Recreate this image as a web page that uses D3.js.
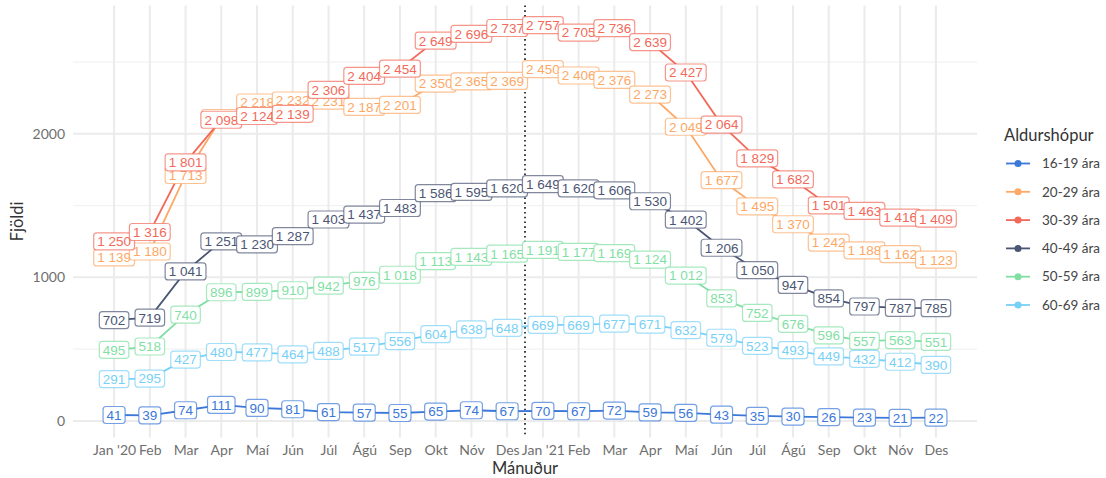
<!DOCTYPE html>
<html>
<head>
<meta charset="utf-8">
<script src="https://cdn.jsdelivr.net/npm/d3@7"></script>
<style>
  body { margin: 0; background: #fff; }
  svg { display: block; }
  .tick text { font-family: Lato, "Noto Sans", sans-serif; }
</style>
</head>
<body>
<svg id="chart" width="1106" height="478"></svg>
<script>
// Months (x axis labels)
const monthLabels = ["Jan '20", "Feb", "Mar", "Apr", "Maí", "Jún", "Júl", "Ágú", "Sep", "Okt", "Nóv", "Des",
                     "Jan '21", "Feb", "Mar", "Apr", "Maí", "Jún", "Júl", "Ágú", "Sep", "Okt", "Nóv", "Des"];

const ageGroups = ["16-19 ára", "20-29 ára", "30-39 ára", "40-49 ára", "50-59 ára", "60-69 ára"];
const groupColors = ["#3b78d8", "#fca866", "#f2695a", "#4b5674", "#82dfa4", "#78d0f6"];

const v16_19 = [41, 39, 74, 111, 90, 81, 61, 57, 55, 65, 74, 67, 70, 67, 72, 59, 56, 43, 35, 30, 26, 23, 21, 22];
const v20_29 = [1139, 1180, 1713, 2110, 2218, 2232, 2231, 2187, 2201, 2350, 2365, 2369, 2450, 2406, 2376, 2273, 2049, 1677, 1495, 1370, 1242, 1188, 1162, 1123];
const v30_39 = [1250, 1316, 1801, 2098, 2124, 2139, 2306, 2404, 2454, 2649, 2696, 2737, 2757, 2705, 2736, 2639, 2427, 2064, 1829, 1682, 1501, 1463, 1416, 1409];
const v40_49 = [702, 719, 1041, 1251, 1230, 1287, 1403, 1437, 1483, 1586, 1595, 1620, 1649, 1620, 1606, 1530, 1402, 1206, 1050, 947, 854, 797, 787, 785];
const v50_59 = [495, 518, 740, 896, 899, 910, 942, 976, 1018, 1113, 1143, 1165, 1191, 1177, 1169, 1124, 1012, 853, 752, 676, 596, 557, 563, 551];
const v60_69 = [291, 295, 427, 480, 477, 464, 488, 517, 556, 604, 638, 648, 669, 669, 677, 671, 632, 579, 523, 493, 449, 432, 412, 390];

const yTicks = [0, 1000, 2000];
const yMinor = [500, 1500, 2500];

const seriesValues = [v16_19, v20_29, v30_39, v40_49, v50_59, v60_69];
const series = ageGroups.map((g, i) => ({
  name: g,
  color: groupColors[i],
  values: seriesValues[i].map((v, j) => ({ i: j, v: v }))
}));

const fmt = d3.formatLocale({ decimal: ",", thousands: " ", grouping: [3], currency: ["", ""] }).format(",d");

const svg = d3.select("#chart");
const panel = { left: 73, right: 977, top: 5.5, bottom: 437.5 };

// ggplot-like 5% expansion
const n = monthLabels.length;
const xPad = (n - 1) * 0.05;
const x = d3.scaleLinear().domain([-xPad, n - 1 + xPad]).range([panel.left, panel.right]);

const allVals = seriesValues.flat();
const yMin = d3.min(allVals), yMax = d3.max(allVals);
const yPad = (yMax - yMin) * 0.05;
const y = d3.scaleLinear().domain([yMin - yPad, yMax + yPad]).range([panel.bottom, panel.top]);

// Grid
const grid = svg.append("g");
grid.selectAll(".minor").data(yMinor).enter().append("line")
  .attr("x1", panel.left).attr("x2", panel.right)
  .attr("y1", d => y(d)).attr("y2", d => y(d))
  .attr("stroke", "#f2f2f2").attr("stroke-width", 1.2);
grid.selectAll(".major").data(yTicks).enter().append("line")
  .attr("x1", panel.left).attr("x2", panel.right)
  .attr("y1", d => y(d)).attr("y2", d => y(d))
  .attr("stroke", "#ebebeb").attr("stroke-width", 2);
grid.selectAll(".vx").data(d3.range(n)).enter().append("line")
  .attr("x1", d => x(d)).attr("x2", d => x(d))
  .attr("y1", panel.top).attr("y2", panel.bottom)
  .attr("stroke", "#ebebeb").attr("stroke-width", 2);

// Axes
const xAxis = svg.append("g")
  .attr("transform", `translate(0,${panel.bottom})`)
  .call(d3.axisBottom(x).tickValues(d3.range(n)).tickFormat(i => monthLabels[i]).tickSize(0).tickPadding(8));
xAxis.select(".domain").remove();
xAxis.selectAll("text").attr("font-size", 14).attr("fill", "#6f6f6f");

const yAxis = svg.append("g")
  .attr("transform", `translate(${panel.left},0)`)
  .call(d3.axisLeft(y).tickValues(yTicks).tickFormat(d3.format("d")).tickSize(0).tickPadding(8));
yAxis.select(".domain").remove();
yAxis.selectAll("text").attr("font-size", 14).attr("fill", "#6f6f6f");

svg.append("text")
  .attr("x", (panel.left + panel.right) / 2).attr("y", 474)
  .attr("text-anchor", "middle")
  .attr("font-family", "Lato, sans-serif").attr("font-size", 16.5).attr("fill", "#333")
  .text("Mánuður");
svg.append("text")
  .attr("transform", `translate(23,${(panel.top + panel.bottom) / 2}) rotate(-90)`)
  .attr("text-anchor", "middle")
  .attr("font-family", "Lato, sans-serif").attr("font-size", 16.5).attr("fill", "#333")
  .text("Fjöldi");

// Year divider
svg.append("line")
  .attr("x1", x(11.5)).attr("x2", x(11.5))
  .attr("y1", panel.top).attr("y2", panel.bottom)
  .attr("stroke", "#111").attr("stroke-width", 1.6)
  .attr("stroke-dasharray", "1.6,3.2");

// Lines
const line = d3.line().x(d => x(d.i)).y(d => y(d.v));
svg.append("g").selectAll("path").data(series).enter().append("path")
  .attr("d", d => line(d.values))
  .attr("fill", "none")
  .attr("stroke", d => d.color)
  .attr("stroke-width", 1.8);

// Labels
const labelLayer = svg.append("g");
series.forEach(s => {
  s.values.forEach(d => {
    const g = labelLayer.append("g").attr("transform", `translate(${x(d.i)},${y(d.v)})`);
    const rect = g.append("rect");
    const t = g.append("text")
      .attr("text-anchor", "middle").attr("dy", "0.36em")
      .attr("font-family", "Liberation Sans, Arial, sans-serif").attr("font-size", 13.5)
      .attr("fill", s.color)
      .text(fmt(d.v));
    const w = t.node().getComputedTextLength() + 7;
    const h = 17;
    rect.attr("x", -w / 2).attr("y", -h / 2).attr("width", w).attr("height", h)
      .attr("rx", 3).attr("ry", 3)
      .attr("fill", "#fff")
      .attr("stroke", s.color).attr("stroke-opacity", 0.7).attr("stroke-width", 1.2);
  });
});

// Legend
const legend = svg.append("g");
legend.append("text")
  .attr("x", 1004).attr("y", 141)
  .attr("font-family", "Lato, sans-serif").attr("font-size", 16.5).attr("fill", "#333")
  .text("Aldurshópur");
const items = legend.selectAll(".item").data(series).enter().append("g")
  .attr("transform", (d, i) => `translate(1006,${163.5 + i * 28.3})`);
items.append("line").attr("x1", 0).attr("x2", 24)
  .attr("stroke", d => d.color).attr("stroke-width", 1.8);
items.append("circle").attr("cx", 12).attr("r", 3.5).attr("fill", d => d.color);
items.append("text").attr("x", 36).attr("dy", "0.35em")
  .attr("font-family", "Lato, sans-serif").attr("font-size", 13.5).attr("fill", "#444")
  .text(d => d.name);
</script>
</body>
</html>
